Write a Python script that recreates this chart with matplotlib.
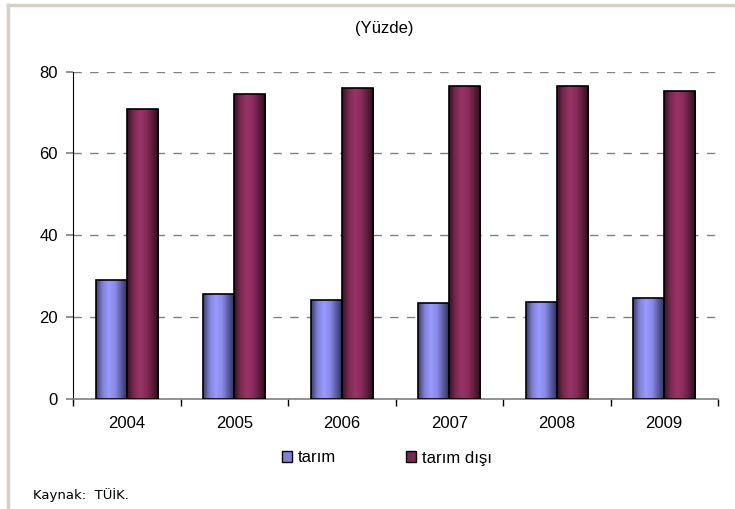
import matplotlib
matplotlib.use("Agg")
import matplotlib.pyplot as plt
import numpy as np
from matplotlib.colors import LinearSegmentedColormap
from matplotlib.patches import Patch
from matplotlib.lines import Line2D

years = ["2004", "2005", "2006", "2007", "2008", "2009"]
tarim = [29.0, 25.7, 24.3, 23.5, 23.7, 24.6]
tarim_disi = [70.9, 74.4, 75.9, 76.5, 76.4, 75.3]
yticks = [0, 20, 40, 60, 80]

plt.rcParams['font.family'] = ['Liberation Sans', 'DejaVu Sans']

fig = plt.figure(figsize=(7.35, 5.09), dpi=100)
# outer frame lines (left/top)
fig.add_artist(Line2D([8/735, 8/735], [0, 1-5/509], transform=fig.transFigure, color='#d4d0c8', lw=2.5))
fig.add_artist(Line2D([8/735, 1], [1-5/509, 1-5/509], transform=fig.transFigure, color='#d4d0c8', lw=2.5))

ax = fig.add_axes([73/735, 1-399/509, (718-73)/735, (399-71.5)/509])

x = np.arange(len(years))
w = 0.29
b1 = ax.bar(x - w/2, tarim, w, color='#9999ff', edgecolor='black', linewidth=1.2, zorder=3)
b2 = ax.bar(x + w/2, tarim_disi, w, color='#993366', edgecolor='black', linewidth=1.2, zorder=3)

cm1 = LinearSegmentedColormap.from_list('c1', ['#3c3c70', '#8080d8', '#9999ff', '#8a8ae8', '#5a5aa0', '#2c2c50'])
cm2 = LinearSegmentedColormap.from_list('c2', ['#3a1024', '#7a2850', '#993366', '#8a2c5c', '#5c1e3c', '#2e0c1c'])
grad = np.linspace(0, 1, 64).reshape(1, -1)
for bars, cm in ((b1, cm1), (b2, cm2)):
    for p in bars:
        x0, y0 = p.get_x(), p.get_y()
        im = ax.imshow(grad, cmap=cm, aspect='auto', extent=[x0, x0 + p.get_width(), y0, y0 + p.get_height()],
                       zorder=3.5, interpolation='bilinear')
        im.set_clip_path(p)
        p.set_facecolor('none')
        p.set_zorder(4)

ax.set_xlim(-0.5, len(years) - 0.5)
ax.set_ylim(0, 80)
ax.set_yticks(yticks)
ax.set_yticklabels([str(v) for v in yticks], fontsize=12)
ax.tick_params(axis='y', length=5, color='#808080', width=1.2, pad=6)
ax.set_xticks(x)
ax.set_xticklabels(years, fontsize=12)
ax.set_xticks(np.arange(len(years) + 1) - 0.5, minor=True)
ax.tick_params(axis='x', which='major', length=0, pad=12)
ax.tick_params(axis='x', which='minor', length=5, color='black', width=1)
ax.yaxis.grid(True, linestyle=(0, (6, 6)), color='#808080', linewidth=1, zorder=0)
ax.set_axisbelow(True)
for s in ['top', 'right']:
    ax.spines[s].set_visible(False)
ax.spines['left'].set_color('black')
ax.spines['bottom'].set_color('#808080')
ax.spines['bottom'].set_linewidth(1.2)

fig.text(384/735, 1-28/509, '(Yüzde)', ha='center', va='center', fontsize=12)

handles = [Patch(facecolor='#8080e0', edgecolor='black', lw=1), Patch(facecolor='#7a2850', edgecolor='black', lw=1)]
fig.legend(handles, ['tarım', 'tarım dışı'], loc='center', bbox_to_anchor=(387/735, 1-458/509), ncol=2,
           frameon=False, fontsize=12, handlelength=0.6, handleheight=0.6, handletextpad=0.35, columnspacing=4.2)

fig.text(33/735, 1-495/509, 'Kaynak:  TÜİK.', ha='left', va='center', fontsize=9.5, family=['DejaVu Sans'])

fig.savefig('out.png', dpi=100)
